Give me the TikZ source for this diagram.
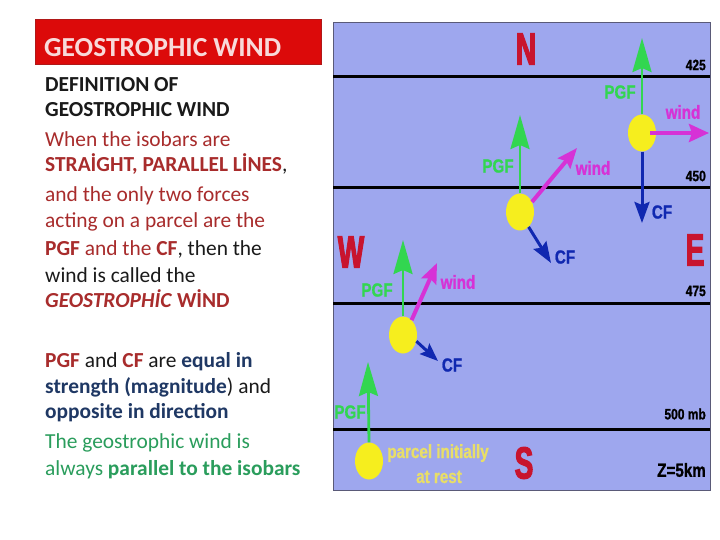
\documentclass[tikz,border=0pt]{standalone}
\usepackage{fontspec}
\setmainfont{Carlito}
\newfontfamily\lab[FakeStretch=0.8,FakeBold=1]{Liberation Sans Bold}
\newfontfamily\compass[FakeStretch=0.62,FakeBold=2.5]{Liberation Sans Bold}
\usetikzlibrary{arrows.meta,shapes.geometric}
\definecolor{dred}{HTML}{A82C2C}
\definecolor{dblue}{HTML}{1F3864}
\definecolor{dgreen}{HTML}{2A9D5C}
\definecolor{txt}{HTML}{1A1A1A}
\definecolor{barred}{HTML}{DC0A0A}
\definecolor{barborder}{HTML}{B01818}
\definecolor{titletxt}{HTML}{F8DADA}
\definecolor{panel}{RGB}{158,167,238}
\definecolor{panelborder}{HTML}{5A5A78}
\definecolor{pgfgreen}{RGB}{50,214,80}
\definecolor{windmag}{RGB}{214,50,214}
\definecolor{cfblue}{RGB}{16,40,176}
\definecolor{compred}{RGB}{200,20,46}
\definecolor{parcelyel}{RGB}{246,238,30}
\definecolor{restyel}{RGB}{232,222,104}
\begin{document}
\begin{tikzpicture}[x=1pt,y=-1pt,
  textline/.style={anchor=base west, inner sep=0pt, font=\fontsize{21.4}{26}\selectfont},
  isobar/.style={draw=black, line width=3pt},
  parcel/.style={ellipse, fill=parcelyel, minimum width=28pt, minimum height=37pt, inner sep=0pt},
  pgfarr/.style={draw=pgfgreen, line width=2.8pt, -{Stealth[length=34pt,width=19pt,inset=4pt]}},
  windarr/.style={draw=windmag, line width=4pt, -{Stealth[length=20pt,width=18pt,inset=3pt]}},
  cfarr/.style={draw=cfblue, line width=3pt, -{Stealth[length=21pt,width=15pt,inset=3pt]}},
  lbl/.style={inner sep=0pt, font=\lab\fontsize{19}{22}\selectfont},
  pgflbl/.style={lbl, text=pgfgreen},
  windlbl/.style={lbl, text=windmag},
  cflbl/.style={lbl, text=cfblue},
  isolbl/.style={anchor=east, inner sep=0pt, font=\lab\fontsize{15}{18}\selectfont, text=black},
  complbl/.style={inner sep=0pt, font=\compass\fontsize{45}{50}\selectfont, text=compred}
]
\useasboundingbox (0,0) rectangle (720,540);
\fill[white] (0,0) rectangle (720,540);

% ---- left column ----
\fill[barred, draw=barborder, line width=1pt] (35,20) rectangle (321,65);
\node[anchor=base west, inner sep=0pt, font=\fontsize{27.5}{31}\selectfont\bfseries, text=titletxt] (title) at (44,57) {GEOSTROPHIC WIND};

\node[textline, text=txt] (l1) at (45,92) {\bfseries DEFINITION OF};
\node[textline, text=txt] (l2) at (45,117) {\bfseries GEOSTROPHIC WIND};
\node[textline, text=dred] (l3) at (45,147) {When the isobars are};
\node[textline, text=txt] (l4) at (45,172) {\textcolor{dred}{\bfseries STRAİGHT, PARALLEL LİNES},};
\node[textline, text=dred] (l5) at (45,202) {and the only two forces};
\node[textline, text=dred] (l6) at (45,228) {acting on a parcel are the};
\node[textline, text=txt] (l7) at (45,255) {\textcolor{dred}{\textbf{PGF} and the \textbf{CF}}, then the};
\node[textline, text=txt] (l8) at (45,282) {wind is called the};
\node[textline, text=dred] (l9) at (45,307) {\textbf{\textit{GEOSTROPHİC}} \textbf{WİND}};
\node[textline, text=txt] (l10) at (45,367) {\textcolor{dred}{\textbf{PGF}} and \textcolor{dred}{\textbf{CF}} are \textcolor{dblue}{\textbf{equal in}}};
\node[textline, text=txt] (l11) at (45,393) {\textcolor{dblue}{\textbf{strength (magnitude}}) and};
\node[textline, text=dblue] (l12) at (45,418) {\bfseries opposite in direction};
\node[textline, text=dgreen] (l13) at (45,448) {The geostrophic wind is};
\node[textline, text=dgreen] (l14) at (45,475) {always \textbf{parallel to the isobars}};

% ---- right panel ----
\draw[fill=panel, draw=panelborder, line width=1pt] (333,23) rectangle (710,490);
\draw[isobar] (333,77) -- (710,77);
\draw[isobar] (333,188) -- (710,188);
\draw[isobar] (333,303) -- (710,303);
\draw[isobar] (333,429) -- (710,429);

\node[isolbl] (i425) at (706,65) {425};
\node[isolbl] (i450) at (706,176) {450};
\node[isolbl] (i475) at (706,291) {475};
\node[isolbl] (i500) at (706,414) {500 mb};
\node[isolbl, font=\lab\fontsize{19}{22}\selectfont] (zkm) at (706,470) {Z=5km};

\node[complbl] (north) at (526,49) {N};
\node[complbl] (west) at (351,252) {W};
\node[complbl] (east) at (695,250) {E};
\node[complbl] (south) at (524,463) {S};

% parcels
\node[parcel] (p1) at (642,133) {};
\node[parcel] (p2) at (520,212) {};
\node[parcel] (p3) at (403,335) {};
\node[parcel] (p4) at (369,461) {};

\coordinate (p1pgf) at (642,38);
\coordinate (p1wind) at (709,133);
\coordinate (p1cf) at (642,223);
\coordinate (p2pgf) at (520,115);
\coordinate (p2wind) at (577,148);
\coordinate (p2cf) at (551,263);
\coordinate (p3pgf) at (403,240);
\coordinate (p3wind) at (437,263);
\coordinate (p3cf) at (438,361);
\coordinate (p4pgf) at (368,362);

\draw[pgfarr] (p1.north) -- (p1pgf);
\draw[windarr] ([xshift=-6pt]p1.east) -- (p1wind);
\draw[cfarr] (p1.south) -- (p1cf);

\draw[pgfarr] (p2.north) -- (p2pgf);
\draw[windarr, -{Stealth[length=20pt,width=16pt,inset=3pt]}] (p2.40) -- (p2wind);
\draw[cfarr] (p2.-60) -- (p2cf);

\draw[pgfarr] (p3.north) -- (p3pgf);
\draw[windarr, -{Stealth[length=20pt,width=16pt,inset=3pt]}] (p3.60) -- (p3wind);
\draw[cfarr, -{Stealth[length=18pt,width=14pt,inset=3pt]}] (p3.-25) -- (p3cf);

\draw[pgfarr] (p4.north) -- (p4pgf);

% labels
\node[pgflbl] (t1pgf) at (620,92) {PGF};
\node[windlbl] (t1wind) at (683,112) {wind};
\node[cflbl] (t1cf) at (662,212) {CF};
\node[pgflbl] (t2pgf) at (498,166) {PGF};
\node[windlbl] (t2wind) at (593,168) {wind};
\node[cflbl] (t2cf) at (565,257) {CF};
\node[pgflbl] (t3pgf) at (377,290) {PGF};
\node[windlbl] (t3wind) at (458,282) {wind};
\node[cflbl] (t3cf) at (452,365) {CF};
\node[pgflbl] (t4pgf) at (350,412) {PGF};
\node[lbl, text=restyel, anchor=base] (rest1) at (438,458) {parcel initially};
\node[lbl, text=restyel, anchor=base] (rest2) at (439,483) {at rest};
\end{tikzpicture}
\end{document}
